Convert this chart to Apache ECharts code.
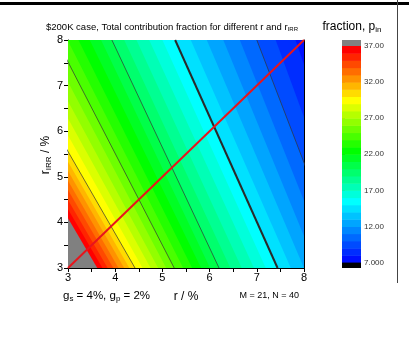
<!DOCTYPE html>
<html>
<head>
<meta charset="utf-8">
<script src="https://cdn.jsdelivr.net/npm/echarts@6/dist/echarts.min.js"></script>
<style>
  html, body { margin: 0; padding: 0; background: #fff; }
  #chart { width: 409px; height: 360px; }
</style>
</head>
<body>
<div id="chart"></div>
<script>
// contour levels of fraction p_in, and where each level line meets rIRR = 3 and rIRR = 8 (r in %)
var levels = [7, 8, 9, 10, 11, 12, 13, 14, 15, 16, 17, 18, 19, 20, 21, 22,
              23, 24, 25, 26, 27, 28, 29, 30, 31, 32, 33, 34, 35, 36, 37];
var rAtIrr3 = [9.85, 9.50, 9.17, 8.86, 8.57, 8.28, 8.00, 7.72, 7.44, 7.19, 6.94, 6.68, 6.44, 6.20, 6.01, 5.82,
               5.63, 5.44, 5.25, 5.08, 4.91, 4.75, 4.58, 4.42, 4.30, 4.19, 4.07, 3.96, 3.84, 3.73, 3.62];
var rAtIrr8 = [8.25, 7.82, 7.40, 7.00, 6.64, 6.29, 5.94, 5.60, 5.27, 5.00, 4.72, 4.45, 4.19, 3.93, 3.70, 3.46,
               3.22, 2.99, 2.76, 2.53, 2.30, 2.08, 1.86, 1.64, 1.51, 1.39, 1.27, 1.15, 1.02, 0.90, 0.78];
var thinLines = [10, 20, 25, 30];
var thickLines = [15];
var diagonal = [[3, 3], [8, 8]];          // r = rIRR
var barTicks = [7, 12, 17, 22, 27, 32, 37];

var chart = echarts.init(document.getElementById('chart'));

// rainbow palette anchors
var anchors = [
  [7, [0, 0, 255]],
  [15.5, [0, 255, 255]],
  [22.5, [0, 255, 0]],
  [29.5, [255, 255, 0]],
  [36.5, [255, 0, 0]]
];
function colorAt(v) {
  if (v <= anchors[0][0]) return 'rgb(0,0,255)';
  for (var i = 1; i < anchors.length; i++) {
    if (v <= anchors[i][0]) {
      var a = anchors[i - 1], b = anchors[i];
      var t = (v - a[0]) / (b[0] - a[0]);
      var c = [0, 1, 2].map(function (k) { return Math.round(a[1][k] + (b[1][k] - a[1][k]) * t); });
      return 'rgb(' + c.join(',') + ')';
    }
  }
  return 'rgb(255,0,0)';
}
function bandColor(L) {
  if (L >= 37) return '#808080';
  return colorAt(L + 0.5);
}

var bandData = levels.map(function (L, i) { return [L, rAtIrr3[i], rAtIrr8[i]]; });

function lineData(L) {
  var i = levels.indexOf(L);
  return [[rAtIrr3[i], 3], [rAtIrr8[i], 8]];
}

var series = [];

// filled bands (painter's order, higher levels on top)
series.push({
  type: 'custom',
  xAxisIndex: 0, yAxisIndex: 0,
  clip: true,
  silent: true,
  data: bandData,
  encode: { x: 1, y: 2 },
  renderItem: function (params, api) {
    var L = api.value(0), r3 = api.value(1), r8 = api.value(2);
    var cs = params.coordSys;
    return {
      type: 'polygon',
      shape: { points: [api.coord([r3, 3]), api.coord([r8, 8]), api.coord([-3, 8]), api.coord([-3, 3])] },
      style: { fill: bandColor(L), stroke: null },
      clipPath: { type: 'rect', shape: { x: cs.x, y: cs.y, width: cs.width, height: cs.height } }
    };
  },
  z: 1
});

thinLines.forEach(function (L) {
  series.push({
    type: 'line', xAxisIndex: 0, yAxisIndex: 0, data: lineData(L),
    symbol: 'none', clip: true, silent: true,
    lineStyle: { color: '#333', width: 0.7 }, z: 3
  });
});
thickLines.forEach(function (L) {
  series.push({
    type: 'line', xAxisIndex: 0, yAxisIndex: 0, data: lineData(L),
    symbol: 'none', clip: true, silent: true,
    lineStyle: { color: '#2a2a2a', width: 2 }, z: 3
  });
});

series.push({
  type: 'line', xAxisIndex: 0, yAxisIndex: 0, data: diagonal,
  symbol: 'none', clip: false, silent: true,
  lineStyle: { color: '#e8141c', width: 2 }, z: 4
});

// colour bar
var barData = levels.slice(0, levels.length - 1).map(function (L) { return [L, L + 1]; });
series.push({
  type: 'custom',
  xAxisIndex: 2, yAxisIndex: 2,
  silent: true,
  data: barData,
  encode: { y: 0 },
  renderItem: function (params, api) {
    var lo = api.value(0), hi = api.value(1);
    var p0 = api.coord([0, lo]), p1 = api.coord([1, hi]);
    var children = [{
      type: 'rect',
      shape: { x: p0[0], y: p1[1], width: p1[0] - p0[0], height: p0[1] - p1[1] + 0.5 },
      style: { fill: bandColor(lo) }
    }];
    var cs = params.coordSys;
    if (params.dataIndex === 0) {
      children.push({ type: 'rect', shape: { x: cs.x, y: p0[1], width: cs.width, height: cs.y + cs.height - p0[1] }, style: { fill: '#000' } });
    }
    if (params.dataIndex === barData.length - 1) {
      children.push({ type: 'rect', shape: { x: cs.x, y: cs.y, width: cs.width, height: p1[1] - cs.y }, style: { fill: '#808080' } });
    }
    return { type: 'group', children: children };
  }
});

var font = 'Liberation Sans, Arial, sans-serif';

var option = {
  animation: false,
  backgroundColor: '#fff',
  textStyle: { fontFamily: font },
  grid: [
    { left: 68, top: 40, width: 236, height: 228 },
    { left: 342, top: 40, width: 19, height: 228 }
  ],
  xAxis: [
    {
      gridIndex: 0, type: 'value', min: 3, max: 8, interval: 1, position: 'bottom',
      axisLine: { onZero: false, lineStyle: { color: '#000', width: 1 } },
      axisTick: { length: 4, lineStyle: { color: '#000' } },
      minorTick: { show: true, splitNumber: 2, length: 4, lineStyle: { color: '#000' } },
      axisLabel: { fontSize: 11, color: '#000', margin: 4, fontFamily: font },
      splitLine: { show: false }
    },
    {
      gridIndex: 0, type: 'value', min: 3, max: 8, position: 'top',
      axisLine: { onZero: false, lineStyle: { color: '#000', width: 1 } },
      axisTick: { show: false }, axisLabel: { show: false }, splitLine: { show: false }
    },
    { gridIndex: 1, type: 'value', min: 0, max: 1, show: false }
  ],
  yAxis: [
    {
      gridIndex: 0, type: 'value', min: 3, max: 8, interval: 1, position: 'left',
      axisLine: { onZero: false, lineStyle: { color: '#000', width: 1 } },
      axisTick: { length: 4, lineStyle: { color: '#000' } },
      minorTick: { show: true, splitNumber: 2, length: 4, lineStyle: { color: '#000' } },
      axisLabel: { fontSize: 11, color: '#000', margin: 5, fontFamily: font },
      splitLine: { show: false }
    },
    {
      gridIndex: 0, type: 'value', min: 3, max: 8, position: 'right',
      axisLine: { onZero: false, lineStyle: { color: '#000', width: 1 } },
      axisTick: { show: false }, axisLabel: { show: false }, splitLine: { show: false }
    },
    {
      gridIndex: 1, type: 'value', min: 6.25, max: 37.83, position: 'right',
      axisLine: { show: false },
      axisTick: { show: true, length: 3, customValues: barTicks, lineStyle: { color: '#333' } },
      axisLabel: {
        customValues: barTicks, fontSize: 8, color: '#333', margin: 3, fontFamily: font,
        formatter: function (v) { return v >= 10 ? v.toFixed(2) : v.toFixed(3); }
      },
      splitLine: { show: false }
    }
  ],
  series: series,
  graphic: [
    { type: 'rect', shape: { x: 0, y: 2, width: 409, height: 3 }, style: { fill: '#000' }, silent: true },
    { type: 'rect', shape: { x: 397, y: 0, width: 1, height: 283 }, style: { fill: '#444' }, silent: true },
    {
      type: 'text', x: 172, y: 27, silent: true,
      style: {
        text: '$200K case, Total contribution fraction for different r and r{sub|IRR}',
        font: '9.5px ' + font, fill: '#000', align: 'center', verticalAlign: 'middle',
        rich: { sub: { fontSize: 6, padding: [5, 0, 0, 0], fontFamily: font } }
      }
    },
    {
      type: 'text', x: 352, y: 27, silent: true,
      style: {
        text: 'fraction, p{sub|in}', font: '12px ' + font, fill: '#000', align: 'center', verticalAlign: 'middle',
        rich: { sub: { fontSize: 8, padding: [6, 0, 0, 0], fontFamily: font } }
      }
    },
    {
      type: 'text', x: 46, y: 155, rotation: Math.PI / 2, silent: true,
      style: {
        text: 'r{sub|IRR} / %', font: '12px ' + font, fill: '#000', align: 'center', verticalAlign: 'middle',
        rich: { sub: { fontSize: 8, padding: [6, 0, 0, 0], fontFamily: font } }
      }
    },
    {
      type: 'text', x: 186, y: 297, silent: true,
      style: { text: 'r / %', font: '12px ' + font, fill: '#000', align: 'center', verticalAlign: 'middle' }
    },
    {
      type: 'text', x: 63, y: 296, silent: true,
      style: {
        text: 'g{sub|s} = 4%, g{sub|p} = 2%', font: '11.5px ' + font, fill: '#000', align: 'left', verticalAlign: 'middle',
        rich: { sub: { fontSize: 8, padding: [6, 0, 0, 0], fontFamily: font } }
      }
    },
    {
      type: 'text', x: 299, y: 296, silent: true,
      style: { text: 'M = 21, N = 40', font: '9px ' + font, fill: '#000', align: 'right', verticalAlign: 'middle' }
    }
  ]
};

chart.setOption(option);
</script>
</body>
</html>
